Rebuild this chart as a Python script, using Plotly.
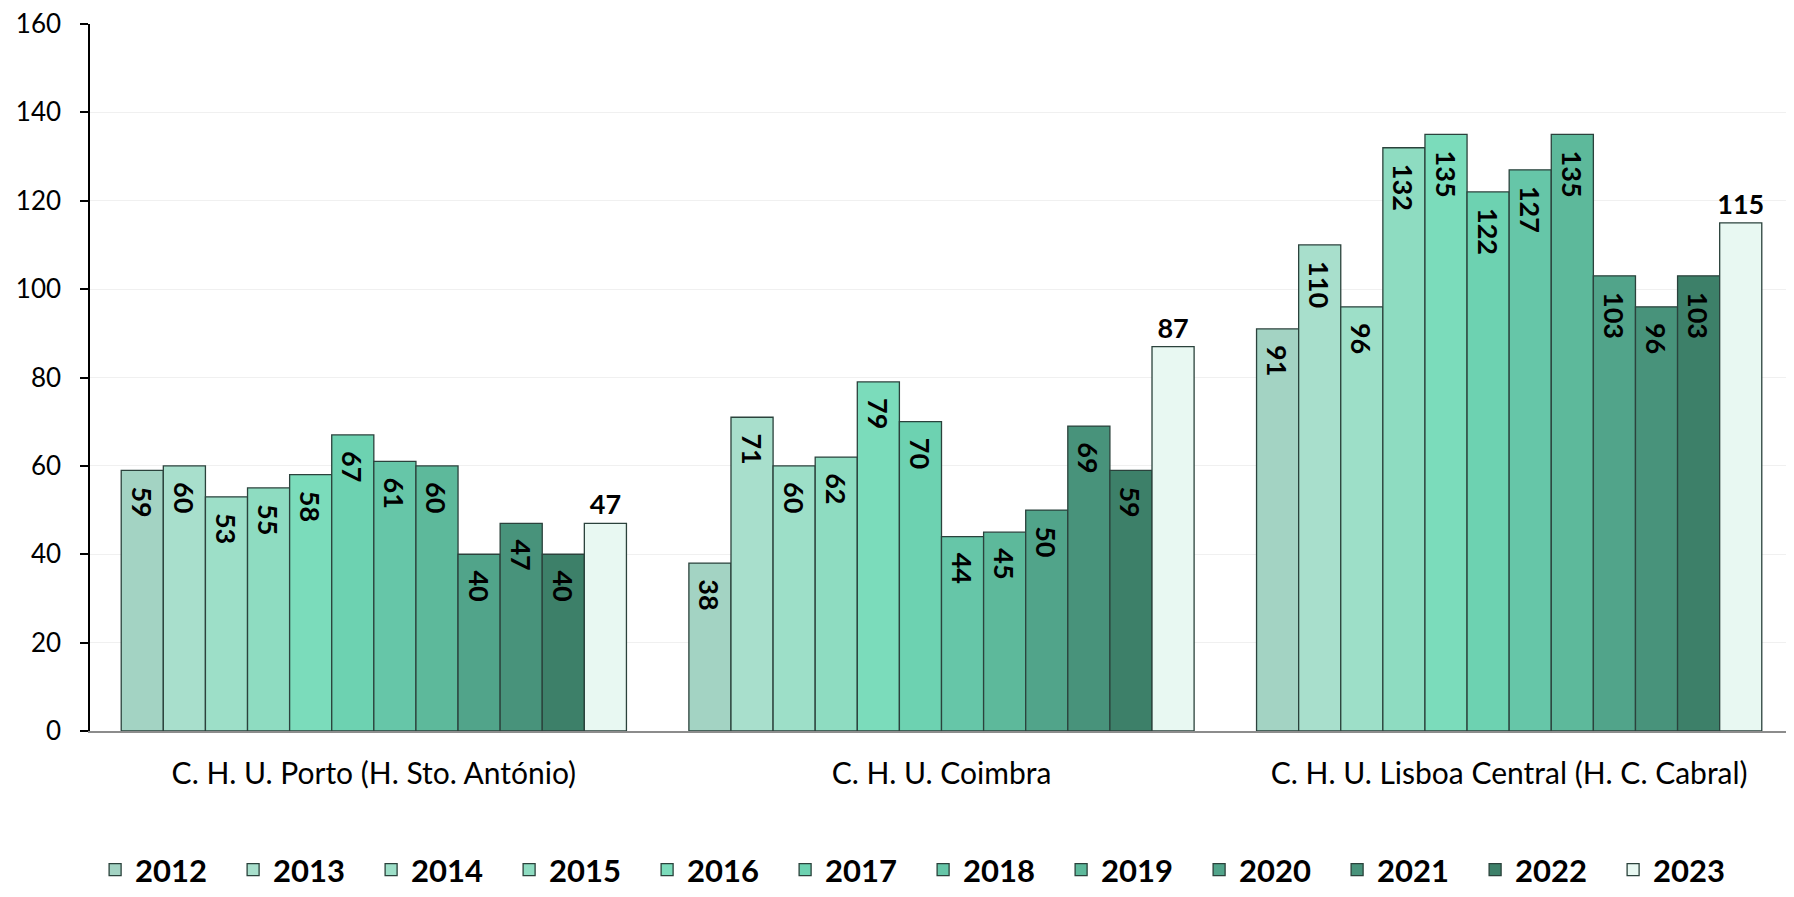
import plotly.graph_objects as go

categories = ["C. H. U. Porto (H. Sto. António)", "C. H. U. Coimbra", "C. H. U. Lisboa Central (H. C. Cabral)"]
years = ["2012", "2013", "2014", "2015", "2016", "2017", "2018", "2019", "2020", "2021", "2022", "2023"]
v2012 = [59, 38, 91]
v2013 = [60, 71, 110]
v2014 = [53, 60, 96]
v2015 = [55, 62, 132]
v2016 = [58, 79, 135]
v2017 = [67, 70, 122]
v2018 = [61, 44, 127]
v2019 = [60, 45, 135]
v2020 = [40, 50, 103]
v2021 = [47, 69, 96]
v2022 = [40, 59, 103]
v2023 = [47, 87, 115]
series = [v2012, v2013, v2014, v2015, v2016, v2017, v2018, v2019, v2020, v2021, v2022, v2023]

colors = ["#a3d3c3", "#a8dfcc", "#9ddfc8", "#8edcc1", "#7bdcbb", "#6dd2b1",
          "#66c6a8", "#5db99b", "#51a48a", "#48937b", "#3d8069", "#e8f8f2"]

fig = go.Figure()
for i, (yr, vals) in enumerate(zip(years, series)):
    last = (i == len(years) - 1)
    fig.add_trace(go.Bar(
        name=yr, x=categories, y=vals,
        marker=dict(color=colors[i], line=dict(color="#2b423c", width=1.3)),
        text=vals,
        texttemplate="%{y}" if last else "\u00a0\u00a0%{y}",
        textposition="outside" if last else "inside",
        insidetextanchor="end",
        textangle=0 if last else 90,
        constraintext="none",
        textfont=dict(family="Lato", size=27, color="black", weight="bold"),
        insidetextfont=dict(family="Lato", size=27, color="black", weight="bold"),
        outsidetextfont=dict(family="Lato", size=27, color="black", weight="bold"),
        cliponaxis=False,
    ))

fig.update_layout(
    width=1786, height=889,
    barmode="group", bargap=0.11, bargroupgap=0,
    plot_bgcolor="white", paper_bgcolor="white",
    margin=dict(l=82, r=1, t=16, b=166),
    font=dict(family="Lato", color="black"),
    showlegend=True,
    legend=dict(orientation="h", x=0.003, xanchor="left",
                yref="container", y=0.0, yanchor="bottom",
                font=dict(family="Lato", size=31, color="black", weight="bold"),
                entrywidth=93, entrywidthmode="pixels", itemwidth=30,
                traceorder="normal"),
)
fig.update_yaxes(range=[0, 160], dtick=20, showline=True, linecolor="black", linewidth=1.5,
                 ticks="outside", ticklen=8, tickcolor="black", tickwidth=1.5,
                 tickfont=dict(family="Lato", size=26, color="black"),
                 showgrid=True, gridcolor="#f0f0f0", gridwidth=1, zeroline=False,
                 ticklabelstandoff=14, ticklabeloverflow="allow", automargin=False)
fig.update_xaxes(showline=True, linecolor="#8c8c8c", linewidth=2, ticks="",
                 tickfont=dict(family="Lato", size=30, color="black"),
                 ticklabelstandoff=15, automargin=False)

fig.write_html("out.html")
